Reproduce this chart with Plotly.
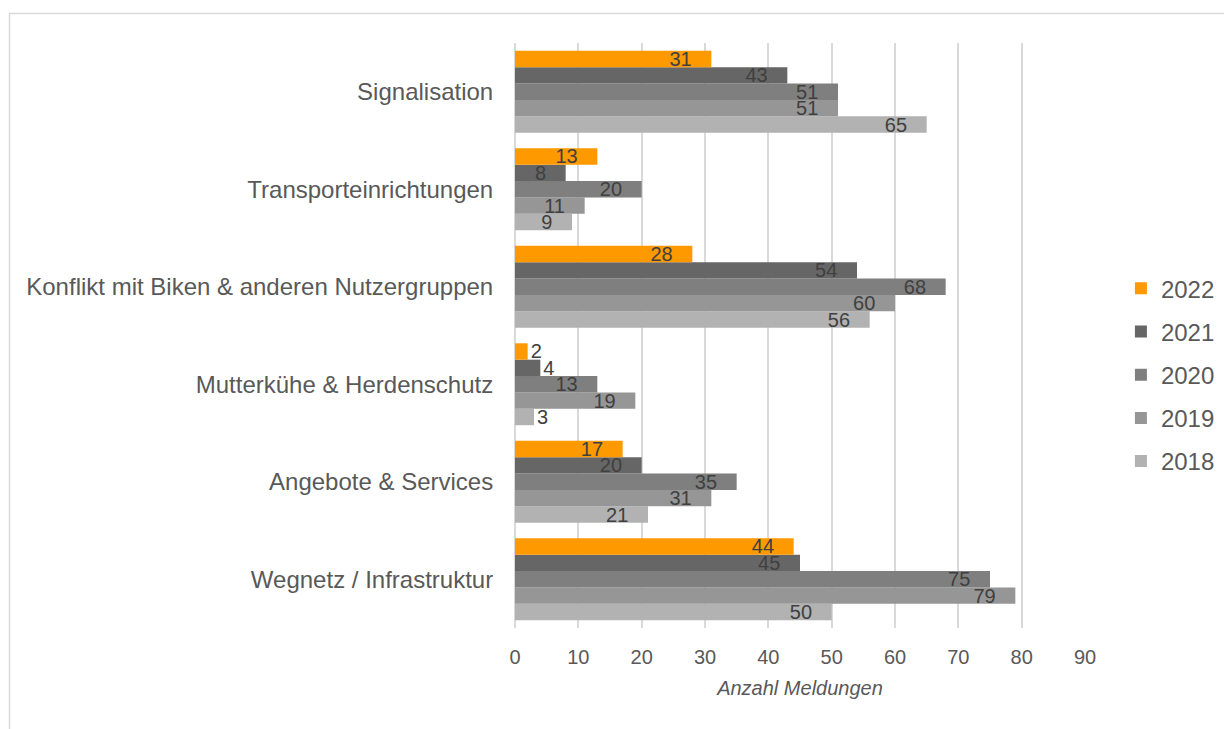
import plotly.graph_objects as go

categories = ["Signalisation", "Transporteinrichtungen", "Konflikt mit Biken & anderen Nutzergruppen",
              "Mutterkühe & Herdenschutz", "Angebote & Services", "Wegnetz / Infrastruktur"]
years = ["2018", "2019", "2020", "2021", "2022"]
v2022 = [31, 13, 28, 2, 17, 44]
v2021 = [43, 8, 54, 4, 20, 45]
v2020 = [51, 20, 68, 13, 35, 75]
v2019 = [51, 11, 60, 19, 31, 79]
v2018 = [65, 9, 56, 3, 21, 50]
series = {"2018": v2018, "2019": v2019, "2020": v2020, "2021": v2021, "2022": v2022}
colors = {"2022": "#FF9900", "2021": "#666666", "2020": "#7F7F7F", "2019": "#969696", "2018": "#B2B2B2"}
x_ticks = [0, 10, 20, 30, 40, 50, 60, 70, 80, 90]

FONT = "Liberation Sans, Arial, sans-serif"
cats_rev = categories[::-1]

fig = go.Figure()
for i, y in enumerate(years):
    vals = series[y][::-1]
    fig.add_trace(go.Bar(
        y=cats_rev, x=vals, name=y, orientation="h",
        marker=dict(color=colors[y], line=dict(width=0)),
        text=[str(v) for v in vals],
        texttemplate="%{text}\u00a0\u00a0\u00a0",
        textposition=["outside" if v < 5 else "inside" for v in vals],
        insidetextanchor="end",
        constraintext="none",
        cliponaxis=False,
        textfont=dict(family=FONT, size=20, color="#404040"),
        legendgroup=y,
        legendrank=len(years) - i,
    ))

W0, W1 = 515, 1085
T0, B0 = 43, 628
pw, ph = W1 - W0, B0 - T0

fig.update_layout(
    width=1224, height=729,
    margin=dict(l=W0, r=1224 - W1, t=T0, b=729 - B0, pad=0, autoexpand=False),
    barmode="group", bargap=0.16, bargroupgap=0,
    paper_bgcolor="white", plot_bgcolor="white",
    font=dict(family=FONT, color="#595959", size=20),
    legend=dict(traceorder="grouped", tracegroupgap=9,
                x=1.063, xanchor="left", y=0.433, yanchor="middle",
                font=dict(size=24, color="#595959"), itemwidth=30),
    xaxis=dict(range=[0, 90], tickvals=x_ticks, showgrid=True, gridcolor="#D9D9D9", gridwidth=1.5,
               zeroline=True, zerolinecolor="#D9D9D9", zerolinewidth=1.5,
               showline=False, ticks="outside", ticklen=11, tickcolor="rgba(0,0,0,0)",
               tickfont=dict(size=20, color="#595959"),
               title=dict(text="Anzahl Meldungen", standoff=13,
                          font=dict(size=20, color="#595959", style="italic"))),
    yaxis=dict(showgrid=False, ticks="outside", ticklen=16, tickcolor="rgba(0,0,0,0)",
               tickfont=dict(size=24, color="#595959"), showline=False),
    shapes=[dict(type="rect", xref="paper", yref="paper",
                 x0=(9.5 - W0) / pw, x1=(1240 - W0) / pw,
                 y0=(B0 - 745) / ph, y1=(B0 - 13.5) / ph,
                 line=dict(color="#D9D9D9", width=1.5), fillcolor="rgba(0,0,0,0)", layer="below")],
)

fig.write_html("out.html", config={"displayModeBar": False},
               post_script="document.body.style.margin='0';document.body.style.overflow='hidden';")
